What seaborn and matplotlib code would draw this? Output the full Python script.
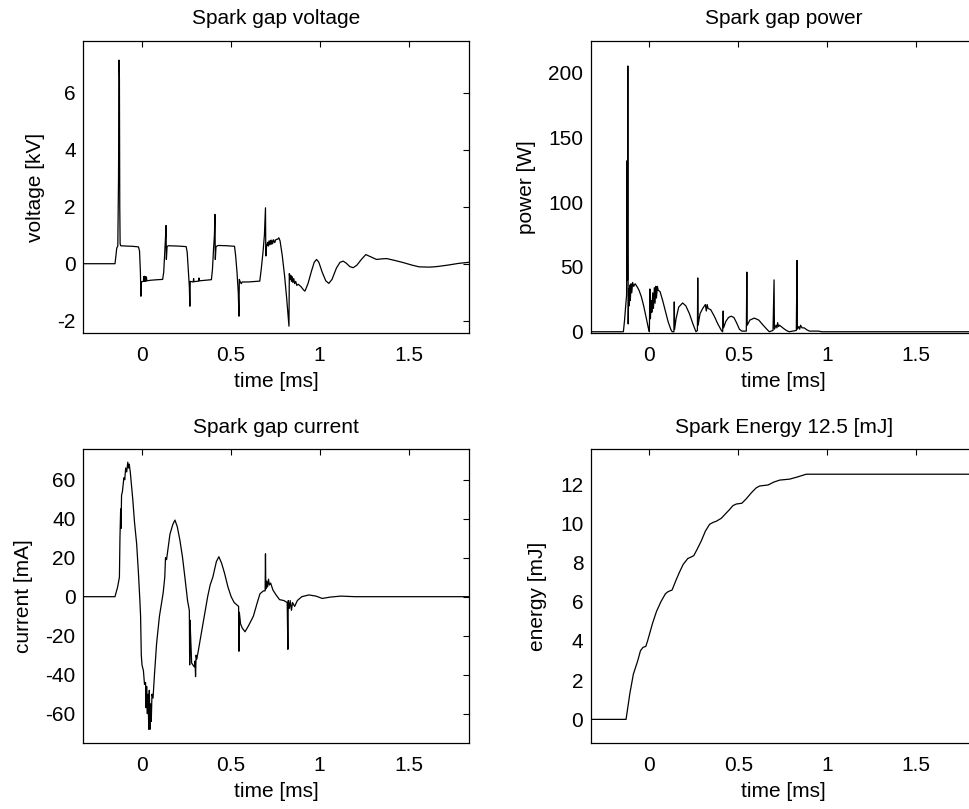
import matplotlib
matplotlib.use("Agg")
import matplotlib.pyplot as plt
from matplotlib.ticker import FuncFormatter
import seaborn as sns

# --- spark gap voltage [kV] vs time [ms]
volt_t = [-0.328, -0.150, -0.146, -0.140, -0.134, -0.130, -0.127, -0.125, -0.123, -0.121,
          -0.118, -0.090, -0.050, -0.018, -0.012, -0.007, -0.004, -0.002, 0.002, 0.010,
          0.012, 0.014, 0.017, 0.019, 0.022, 0.024, 0.027, 0.029, 0.050, 0.090,
          0.118, 0.124, 0.130, 0.134, 0.137, 0.139, 0.143, 0.150, 0.200, 0.250,
          0.256, 0.262, 0.268, 0.271, 0.273, 0.290, 0.292, 0.294, 0.320, 0.322,
          0.324, 0.360, 0.392, 0.398, 0.404, 0.409, 0.412, 0.414, 0.418, 0.430,
          0.480, 0.522, 0.528, 0.536, 0.543, 0.547, 0.549, 0.553, 0.560, 0.565,
          0.600, 0.664, 0.672, 0.682, 0.690, 0.696, 0.698, 0.702, 0.708, 0.712,
          0.716, 0.720, 0.724, 0.728, 0.732, 0.736, 0.742, 0.748, 0.755, 0.765,
          0.771, 0.778, 0.790, 0.803, 0.815, 0.823, 0.828, 0.830, 0.834, 0.838,
          0.842, 0.846, 0.850, 0.855, 0.860, 0.866, 0.872, 0.880, 0.895, 0.910,
          0.918, 0.935, 0.955, 0.970, 0.983, 0.996, 1.015, 1.035, 1.052, 1.070,
          1.095, 1.115, 1.133, 1.150, 1.170, 1.189, 1.210, 1.235, 1.260, 1.285,
          1.320, 1.350, 1.377, 1.420, 1.470, 1.520, 1.560, 1.620, 1.660, 1.720,
          1.780, 1.840]
volt_kv = [0.0, 0.0, 0.2, 0.55, 0.62, 3.0, 7.14, 6.5, 2.0, 0.70,
           0.63, 0.62, 0.61, 0.59, 0.45, -0.3, -1.14, -0.65, -0.63, -0.62,
           -0.45, -0.62, -0.44, -0.62, -0.45, -0.61, -0.47, -0.60, -0.58, -0.56,
           -0.55, -0.3, 0.4, 0.9, 1.34, 0.15, 0.6, 0.63, 0.62, 0.60,
           0.4, -0.2, -0.8, -1.49, -0.62, -0.64, -0.52, -0.63, -0.61, -0.50,
           -0.60, -0.58, -0.56, -0.2, 0.5, 1.0, 1.73, 0.15, 0.6, 0.64,
           0.63, 0.61, 0.3, -0.3, -1.0, -1.84, -0.55, -0.62, -0.70, -0.64,
           -0.64, -0.61, -0.2, 0.4, 1.0, 1.96, 0.27, 0.6, 0.75, 0.62,
           0.80, 0.66, 0.82, 0.68, 0.83, 0.70, 0.84, 0.74, 0.85, 0.86,
           0.91, 0.80, 0.3, -0.4, -1.2, -1.8, -2.19, -0.35, -0.55, -0.40,
           -0.62, -0.45, -0.66, -0.52, -0.70, -0.62, -0.76, -0.72, -0.80, -0.92,
           -0.96, -0.7, -0.25, 0.05, 0.15, 0.05, -0.3, -0.6, -0.69, -0.55,
           -0.15, 0.05, 0.09, 0.02, -0.10, -0.14, -0.05, 0.15, 0.32, 0.25,
           0.15, 0.17, 0.18, 0.12, 0.04, -0.05, -0.11, -0.12, -0.10, -0.05,
           0.01, 0.05]

# --- spark gap power [W] vs time [ms]
power_t = [-0.328, -0.146, -0.140, -0.133, -0.128, -0.125, -0.123, -0.121, -0.119, -0.116,
           -0.113, -0.110, -0.107, -0.103, -0.099, -0.094, -0.088, -0.080, -0.070, -0.058,
           -0.045, -0.032, -0.018, -0.006, 0.000, 0.003, 0.006, 0.010, 0.014, 0.019,
           0.023, 0.028, 0.032, 0.036, 0.040, 0.045, 0.050, 0.060, 0.075, 0.090,
           0.105, 0.120, 0.128, 0.138, 0.140, 0.142, 0.150, 0.165, 0.187, 0.205,
           0.225, 0.245, 0.262, 0.270, 0.272, 0.274, 0.285, 0.300, 0.315, 0.320,
           0.325, 0.330, 0.345, 0.365, 0.385, 0.405, 0.412, 0.415, 0.417, 0.430,
           0.445, 0.460, 0.475, 0.490, 0.506, 0.520, 0.545, 0.548, 0.550, 0.565,
           0.590, 0.615, 0.640, 0.660, 0.674, 0.695, 0.701, 0.703, 0.712, 0.717,
           0.721, 0.726, 0.732, 0.750, 0.770, 0.786, 0.826, 0.830, 0.832, 0.840,
           0.845, 0.850, 0.858, 0.870, 0.885, 0.900, 0.950, 0.970, 1.840]
power_w = [0, 0, 8, 20, 28, 132, 40, 205, 6, 33,
           20, 36, 24, 37, 30, 38, 35, 37, 35, 32,
           27, 20, 11, 3, 0, 33, 10, 24, 15, 30,
           18, 34, 22, 35, 26, 35, 32, 31, 24, 16,
           8, 2, 0, 0, 23, 2, 10, 19, 22.2, 20,
           14, 6, 0, 1, 41.5, 5, 14, 18, 21, 16,
           21, 18, 17, 12, 6, 1, 0, 16, 3, 8,
           11, 12, 11, 7, 2, 0.5, 0.5, 46, 5, 9,
           10.5, 9, 5, 2, 0, 1, 40, 2, 5, 3,
           7, 4, 5, 3, 1, 0, 1, 55, 2, 4,
           2, 5, 3, 3, 1.5, 0.5, 0.5, 0, 0]

# --- spark gap current [mA] vs time [ms]
curr_t = [-0.328, -0.150, -0.135, -0.125, -0.122, -0.118, -0.116, -0.113, -0.108, -0.100,
          -0.095, -0.090, -0.084, -0.078, -0.074, -0.070, -0.064, -0.058, -0.050, -0.040,
          -0.028, -0.018, -0.010, -0.006, -0.002, 0.002, 0.010, 0.016, 0.022, 0.025,
          0.028, 0.032, 0.036, 0.040, 0.043, 0.047, 0.050, 0.054, 0.058, 0.064,
          0.072, 0.084, 0.100, 0.121, 0.130, 0.134, 0.140, 0.159, 0.175, 0.187,
          0.200, 0.215, 0.230, 0.243, 0.258, 0.268, 0.270, 0.272, 0.276, 0.281,
          0.288, 0.296, 0.300, 0.303, 0.306, 0.310, 0.318, 0.333, 0.352, 0.371,
          0.385, 0.400, 0.420, 0.434, 0.450, 0.466, 0.485, 0.503, 0.520, 0.545,
          0.547, 0.549, 0.556, 0.565, 0.581, 0.600, 0.628, 0.650, 0.665, 0.685,
          0.694, 0.696, 0.698, 0.703, 0.708, 0.713, 0.718, 0.725, 0.738, 0.755,
          0.775, 0.800, 0.818, 0.822, 0.824, 0.830, 0.835, 0.842, 0.848, 0.860,
          0.875, 0.900, 0.940, 0.980, 1.015, 1.060, 1.120, 1.200, 1.840]
curr_ma = [0, 0, 5, 10, 30, 45, 35, 52, 54, 61,
           60, 66, 64, 69, 66, 68, 64, 58, 50, 38,
           27, 12, -2, -10, -30, -35, -38, -45, -44, -57,
           -46, -60, -50, -68, -48, -68, -55, -64, -50, -52,
           -40, -24, -10, 2, 10, 20, 19, 32, 37, 39.3,
           36, 29, 20, 10, -2, -7, -35, -12, -22, -34,
           -35, -36, -33, -41, -30, -32, -28, -20, -10, 0,
           6, 10, 18, 20.5, 17, 12, 5, 0, -3, -5,
           -28, -8, -14, -16, -18, -15, -10, -3, 1.5, 3,
           3, 22, 4, 8, 5, 9, 6, 7, 3.4, 1,
           -1.5, -2, -3, -27, -2, -6, -2, -7, -3, -5,
           -2, 0, 0.9, 0.3, -0.9, -0.2, 0.3, 0, 0]

# --- cumulative spark energy [mJ] vs time [ms]
energy_t = [-0.328, -0.131, -0.118, -0.110, -0.090, -0.065, -0.050, -0.036, -0.020, -0.010,
            0.018, 0.040, 0.065, 0.090, 0.103, 0.128, 0.150, 0.169, 0.190, 0.216,
            0.235, 0.250, 0.270, 0.292, 0.315, 0.339, 0.360, 0.376, 0.404, 0.430,
            0.451, 0.470, 0.489, 0.520, 0.545, 0.573, 0.600, 0.620, 0.667, 0.700,
            0.733, 0.789, 0.836, 0.882, 1.840]
energy_mj = [0, 0, 0.8, 1.3, 2.3, 3.0, 3.5, 3.67, 3.72, 4.0,
             4.9, 5.5, 6.0, 6.4, 6.5, 6.6, 7.1, 7.5, 7.9, 8.2,
             8.28, 8.35, 8.7, 9.1, 9.6, 9.95, 10.05, 10.1, 10.25, 10.5,
             10.7, 10.9, 10.98, 11.02, 11.25, 11.55, 11.8, 11.9, 11.95, 12.1,
             12.2, 12.25, 12.37, 12.5, 12.5]

total_energy = energy_mj[-1]
time_ticks = [0, 0.5, 1, 1.5]

sns.set_theme(style="white")
plt.rcParams.update({
    "font.family": ["Liberation Sans", "DejaVu Sans"],
    "font.size": 15,
    "axes.unicode_minus": False,
    "axes.edgecolor": "black",
    "axes.linewidth": 0.9,
    "xtick.direction": "in",
    "ytick.direction": "in",
    "xtick.top": True,
    "ytick.right": True,
    "xtick.color": "black",
    "ytick.color": "black",
    "text.color": "black",
    "axes.labelcolor": "black",
})

W, H = 969, 809
fig = plt.figure(figsize=(W / 100, H / 100), dpi=100)

def box(left, top, width, height):
    return [left / W, 1 - (top + height) / H, width / W, height / H]

ax_v = fig.add_axes(box(83.3, 40.7, 385.7, 292.6))
ax_p = fig.add_axes(box(591.0, 40.7, 385.7, 292.6))
ax_i = fig.add_axes(box(83.3, 449.3, 385.7, 294.0))
ax_e = fig.add_axes(box(591.0, 449.3, 385.7, 294.0))

panels = [
    (ax_v, volt_t, volt_kv, "Spark gap voltage", "voltage [kV]", (-2.44, 7.82), [-2, 0, 2, 4, 6]),
    (ax_p, power_t, power_w, "Spark gap power", "power [W]", (-1.2, 224.5), [0, 50, 100, 150, 200]),
    (ax_i, curr_t, curr_ma, "Spark gap current", "current [mA]", (-75.2, 75.6), [-60, -40, -20, 0, 20, 40, 60]),
    (ax_e, energy_t, energy_mj, f"Spark Energy {total_energy:g} [mJ]", "energy [mJ]", (-1.22, 13.77), [0, 2, 4, 6, 8, 10, 12]),
]

fmt = FuncFormatter(lambda v, _: f"{v:g}")
for ax, t, y, title, ylab, ylim, yticks in panels:
    sns.lineplot(x=t, y=y, ax=ax, sort=False, estimator=None, color="black", linewidth=0.9)
    ax.set_xlim(-0.328, 1.84)
    ax.set_ylim(*ylim)
    ax.set_xticks(time_ticks)
    ax.set_yticks(yticks)
    ax.xaxis.set_major_formatter(fmt)
    ax.yaxis.set_major_formatter(fmt)
    ax.tick_params(axis="x", length=4, width=0.8, pad=9, labelsize=15)
    ax.tick_params(axis="y", length=4, width=0.8, pad=5.5, labelsize=15)
    ax.set_title(title, fontsize=15, pad=12)
    ax.set_xlabel("time [ms]", fontsize=15, labelpad=5)
    ax.set_ylabel(ylab, fontsize=15, labelpad=9)
    for s in ax.spines.values():
        s.set_visible(True)
        s.set_color("black")

fig.savefig("out.png", dpi=100)
